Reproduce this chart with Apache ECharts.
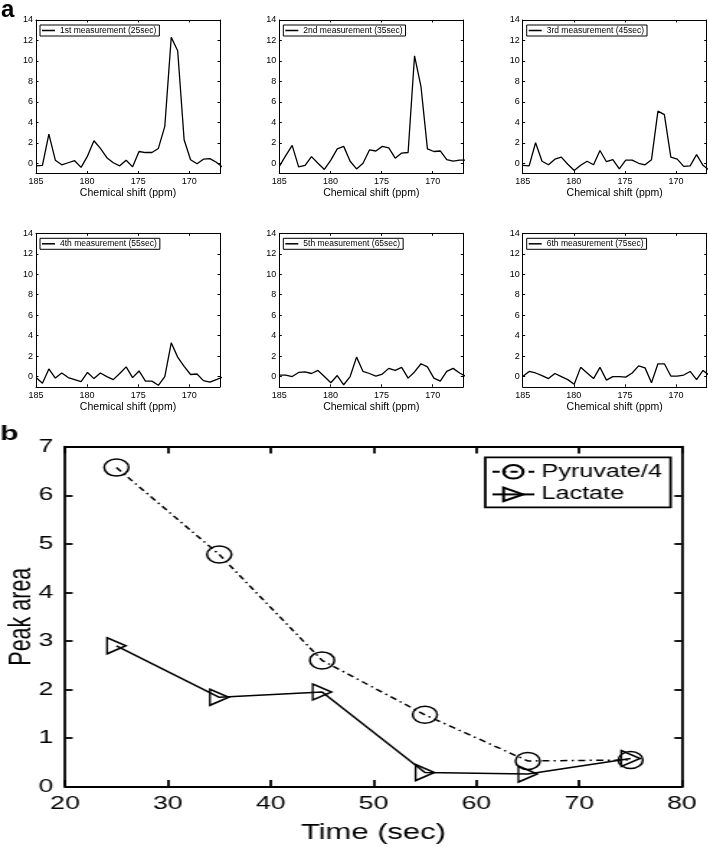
<!DOCTYPE html>
<html><head><meta charset="utf-8">
<script src="https://cdn.jsdelivr.net/npm/echarts@6/dist/echarts.min.js"></script>
<style>
html,body{margin:0;padding:0;background:#fff}
#wrap{position:relative;width:708px;height:847px;overflow:hidden}
#ca{position:absolute;left:0;top:0;width:708px;height:847px}
#cb{position:absolute;left:0;top:0;height:847px;transform-origin:0 0}
</style>
</head><body><div id="wrap"><div id="ca"></div><div id="cb"></div></div><script>
const FONT = '"Liberation Sans", Arial, Helvetica, sans-serif';

// ---- Panel a: spectra ----
const shiftPpm = [185.0,184.37,183.74,183.11,182.48,181.85,181.22,180.59,179.96,179.33,178.7,178.07,177.44,176.81,176.18,175.55,174.92,174.29,173.66,173.03,172.4,171.77,171.14,170.51,169.88,169.25,168.62,167.99,167.36,166.73];
const meas1 = [-0.25,-0.2,2.85,0.3,-0.15,0.05,0.25,-0.4,0.7,2.2,1.45,0.55,0.05,-0.25,0.3,-0.35,1.15,1.05,1.05,1.45,3.6,12.3,11.0,2.3,0.35,-0.05,0.4,0.45,0.1,-0.4];
const meas2 = [-0.3,0.75,1.75,-0.35,-0.2,0.65,0.0,-0.6,0.3,1.4,1.65,0.2,-0.55,0.0,1.3,1.2,1.65,1.5,0.5,1.0,1.05,10.5,7.5,1.4,1.15,1.2,0.35,0.2,0.3,0.3];
const meas3 = [-0.2,-0.25,2.0,0.2,-0.15,0.4,0.6,-0.1,-0.7,-0.2,0.2,-0.15,1.25,0.15,0.35,-0.55,0.3,0.3,0.0,-0.15,0.35,5.1,4.75,0.6,0.4,-0.3,-0.25,0.85,-0.2,-0.7];
const meas4 = [-0.1,-0.65,0.75,-0.15,0.35,-0.1,-0.3,-0.5,0.4,-0.2,0.35,0.0,-0.3,0.3,0.95,-0.1,0.55,-0.45,-0.45,-0.85,0.0,3.3,1.9,1.0,0.2,0.25,-0.4,-0.55,-0.3,-0.05];
const meas5 = [0.15,0.15,0.0,0.4,0.45,0.3,0.6,0.0,-0.6,0.1,-0.8,0.0,1.9,0.5,0.3,0.05,0.25,0.8,0.6,0.9,-0.15,0.45,1.25,0.95,-0.15,-0.45,0.5,0.8,0.35,0.0];
const meas6 = [0.0,0.5,0.35,0.1,-0.2,0.3,0.0,-0.3,-0.75,0.9,0.35,-0.2,0.9,-0.35,0.0,0.0,-0.05,0.35,1.05,0.85,-0.6,1.25,1.25,0.05,0.05,0.15,0.5,-0.3,0.6,0.1];
const panelNames = ['1st measurement (25sec)','2nd measurement (35sec)','3rd measurement (45sec)','4th measurement (55sec)','5th measurement (65sec)','6th measurement (75sec)'];
const shiftTicks = [170,175,180,185];
const intensityTicks = [0,2,4,6,8,10,12,14];

// ---- Panel b: peak areas ----
const timeSec = [25,35,45,55,65,75];
const pyruvateQuarter = [6.57,4.78,2.60,1.48,0.53,0.55];
const lactate = [2.90,1.84,1.95,0.29,0.26,0.58];

// Panel b of the reference is horizontally stretched; reproduce with a CSS scaleX.
const SX = 1.44;
document.getElementById('cb').style.width = (708/SX)+'px';
document.getElementById('cb').style.transform = 'scaleX('+SX+')';

const spectra = [meas1,meas2,meas3,meas4,meas5,meas6];
const chartA = echarts.init(document.getElementById('ca'));
const grids=[], xAxes=[], yAxes=[], series=[], legends=[];
const colLeft=[36,279.3,522.7], rowTop=[20,233.3];
const PW=184, PH=153.5;
const blk = {color:'#000', width:1};

panelNames.forEach((name,p)=>{
  const r=Math.floor(p/3), c=p%3;
  const left=colLeft[c], top=rowTop[r];
  grids.push({left:left, top:top, width:PW, height:PH, containLabel:false, outerBoundsMode:'none'});
  const g=grids.length-1;
  const xb={gridIndex:g,type:'value',min:167,max:185,inverse:true,
    axisLine:{show:true,onZero:false,lineStyle:blk},
    axisTick:{show:true,inside:true,length:2.5,customValues:shiftTicks,lineStyle:blk},
    splitLine:{show:false}};
  xAxes.push(Object.assign({},xb,{position:'bottom',name:'Chemical shift (ppm)',nameLocation:'middle',nameGap:14.5,
    nameMoveOverlap:false,
    nameTextStyle:{fontFamily:FONT,fontSize:10.5,color:'#000'},
    axisLabel:{show:true,customValues:shiftTicks,margin:4,fontFamily:FONT,fontSize:9,color:'#000'}}));
  xAxes.push(Object.assign({},xb,{position:'top',axisLabel:{show:false}}));
  const yb={gridIndex:g,type:'value',min:-1,max:14,
    axisLine:{show:true,onZero:false,lineStyle:blk},
    axisTick:{show:true,inside:true,length:2.5,customValues:intensityTicks,lineStyle:blk},
    splitLine:{show:false}};
  yAxes.push(Object.assign({},yb,{position:'left',
    axisLabel:{show:true,customValues:intensityTicks,margin:3,fontFamily:FONT,fontSize:9,color:'#000'}}));
  yAxes.push(Object.assign({},yb,{position:'right',axisLabel:{show:false}}));
  series.push({type:'line',name:name,xAxisIndex:2*g,yAxisIndex:2*g,
    data:shiftPpm.map((x,i)=>[x,spectra[p][i]]),symbol:'none',clip:true,
    lineStyle:{color:'#000',width:1.3},itemStyle:{color:'#000'}});
  legends.push({left:left+4,top:top+5,data:[name],orient:'vertical',icon:'rect',
    itemWidth:13,itemHeight:1.5,padding:[1,3,1,2],borderColor:'#000',borderWidth:1,
    backgroundColor:'#fff',selectedMode:false,
    textStyle:{fontFamily:FONT,fontSize:8.5,color:'#000'}});
});

chartA.setOption({
  animation:false, backgroundColor:'#fff',
  grid:grids, xAxis:xAxes, yAxis:yAxes, series:series, legend:legends,
  graphic:[{type:'text',left:1,top:-2,style:{text:'a',font:'bold 24px '+FONT,fill:'#000'}}]
});

// ---- chart B (panel b) in unscaled coordinates ----
const chartB = echarts.init(document.getElementById('cb'));
const thickX={color:'#000',width:1.8};
const bx={type:'value',min:20,max:80,interval:10,
  axisLine:{show:true,onZero:false,lineStyle:thickX},
  axisTick:{show:true,inside:true,length:6.7,lineStyle:thickX},splitLine:{show:false}};
const by={type:'value',min:0,max:7,interval:1,
  axisLine:{show:true,onZero:false,lineStyle:thickX},
  axisTick:{show:true,inside:true,length:5.3,lineStyle:thickX},splitLine:{show:false}};
chartB.setOption({
  animation:false, backgroundColor:'transparent',
  grid:[{left:65/SX, top:446.7, width:617/SX, height:340, containLabel:false, outerBoundsMode:'none'}],
  xAxis:[
    Object.assign({},bx,{position:'bottom',name:'Time (sec)',nameLocation:'middle',nameGap:35,
      nameMoveOverlap:false,
      nameTextStyle:{fontFamily:FONT,fontSize:21.5,color:'#000'},
      axisLabel:{show:true,margin:7.5,fontFamily:FONT,fontSize:18.5,color:'#000'}}),
    Object.assign({},bx,{position:'top',axisLabel:{show:false}})
  ],
  yAxis:[
    Object.assign({},by,{position:'left',name:'Peak area',nameLocation:'middle',nameRotate:90,nameGap:19,
      nameMoveOverlap:false,
      nameTextStyle:{fontFamily:FONT,fontSize:21.5,color:'#000'},
      axisLabel:{show:true,margin:8,fontFamily:FONT,fontSize:18.5,color:'#000'}}),
    Object.assign({},by,{position:'right',axisLabel:{show:false}})
  ],
  series:[
    {type:'line',name:'Pyruvate/4',xAxisIndex:0,yAxisIndex:0,
      data:timeSec.map((t,i)=>[t,pyruvateQuarter[i]]),
      symbol:'circle',symbolSize:17,
      lineStyle:{color:'#000',width:1.5,type:[5,3,1.5,3]},
      itemStyle:{color:'rgba(0,0,0,0)',borderColor:'#000',borderWidth:1.5}},
    {type:'line',name:'Lactate',xAxisIndex:0,yAxisIndex:0,
      data:timeSec.map((t,i)=>[t,lactate[i]]),
      symbol:'path://M0,0L12,7L0,14Z',symbolSize:[13,16],symbolKeepAspect:false,
      lineStyle:{color:'#000',width:1.5},
      itemStyle:{color:'rgba(0,0,0,0)',borderColor:'#000',borderWidth:1.5}}
  ],
  legend:[{left:337,top:457.3,data:['Pyruvate/4','Lactate'],orient:'vertical',
    itemWidth:29,itemHeight:17,itemGap:4.6,padding:[5.5,6,4,4],borderColor:'#000',borderWidth:1.8,
    backgroundColor:'#fff',selectedMode:false,
    textStyle:{fontFamily:FONT,fontSize:17.5,color:'#000'}}],
  graphic:[{type:'text',left:0,top:424,style:{text:'b',font:'bold 21px '+FONT,fill:'#000'}}]
});
</script></body></html>
